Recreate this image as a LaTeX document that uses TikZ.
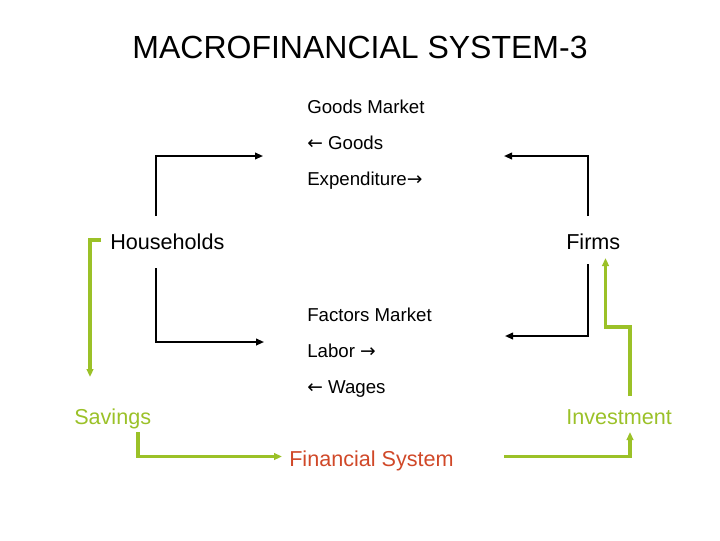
\documentclass[tikz,border=0pt]{standalone}
\usepackage{fontspec}
\setmainfont{Liberation Sans}
\newfontfamily\arr{DejaVu Sans}
\usetikzlibrary{arrows.meta}
\definecolor{lgreen}{RGB}{155,193,40}
\definecolor{fsred}{RGB}{208,72,40}
\newcommand{\ra}{{\arr →}}
\newcommand{\la}{{\arr ←}}
\tikzset{
  lbl/.style={inner sep=0pt, anchor=base west, font=\fontsize{14pt}{16pt}\selectfont},
  big/.style={inner sep=0pt, anchor=base west, font=\fontsize{16.2pt}{18pt}\selectfont},
  blk/.style={draw=black, line width=1.3pt, -{Triangle[length=6pt,width=5pt]}},
  grn/.style={draw=lgreen, line width=2.3pt, -{Triangle[length=6pt,width=5pt]}},
}
\begin{document}
\begin{tikzpicture}[x=0.75pt,y=-0.75pt]
\useasboundingbox (0,0) rectangle (720,540);
% title
\node[inner sep=0pt, anchor=base, font=\fontsize{24pt}{28pt}\selectfont] (title) at (360,58) {MACROFINANCIAL SYSTEM-3};
% market labels
\node[lbl] (gm) at (307,113) {Goods Market};
\node[lbl] (gg) at (307,149) {\la{} Goods};
\node[lbl] (ge) at (307,185) {Expenditure\ra};
\node[lbl] (fm) at (307,321.5) {Factors Market};
\node[lbl] (fl) at (307,357.5) {Labor \ra};
\node[lbl] (fw) at (307,393) {\la{} Wages};
% main nodes
\node[big] (hh) at (110,249) {Households};
\node[big] (firms) at (566,249) {Firms};
\node[big, text=lgreen] (sav) at (74,424) {Savings};
\node[big, text=lgreen] (inv) at (566,424) {Investment};
\node[big, text=fsred] (fs) at (289,466) {Financial System};
% coordinates
\coordinate (hhT) at (156,216);
\coordinate (gmL) at (263,156);
\coordinate (fT) at (588,216);
\coordinate (gmR) at (504,156);
\coordinate (hhB) at (156,268);
\coordinate (fmL) at (264,342);
\coordinate (fB) at (588,264);
\coordinate (fmR) at (505,336);
% black connectors
\draw[blk] (hhT) |- (gmL);
\draw[blk] (fT) |- (gmR);
\draw[blk] (hhB) |- (fmL);
\draw[blk] (fB) |- (fmR);
% green connectors
\coordinate (hhG) at (101,240);
\coordinate (savT) at (90,377);
\draw[grn] (hhG) -| (savT);
\coordinate (savB) at (138,432);
\coordinate (fsL) at (282,456.5);
\draw[grn] (savB) |- (fsL);
\coordinate (fsR) at (504,456.5);
\coordinate (invB) at (630,432);
\draw[grn] (fsR) -| (invB);
\coordinate (invT) at (630,396);
\coordinate (firmsB) at (605.5,258);
\draw[grn] (invT) -- (630,327) -- (605.5,327) -- (firmsB);
\end{tikzpicture}
\end{document}
